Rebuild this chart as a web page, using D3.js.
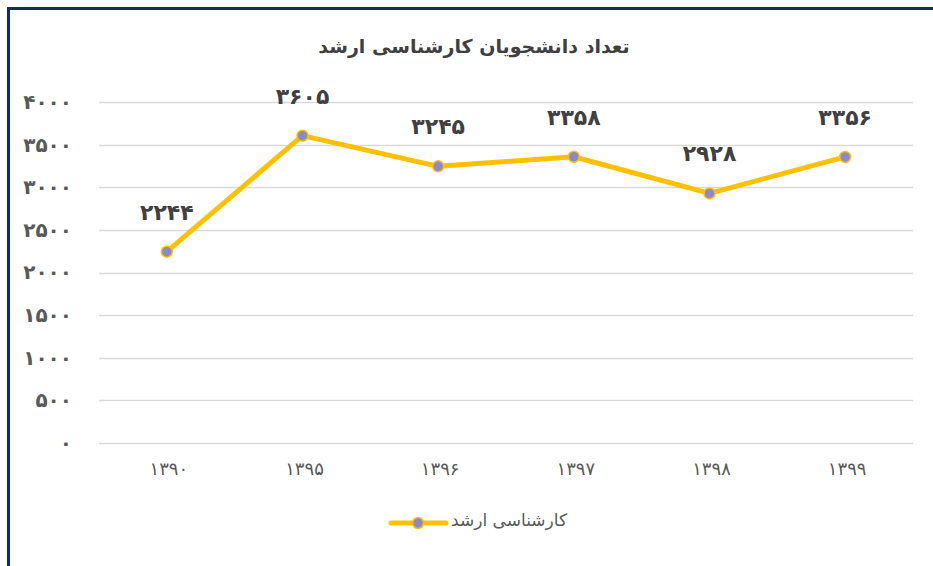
<!DOCTYPE html>
<html>
<head>
<meta charset="utf-8">
<script src="https://cdn.jsdelivr.net/npm/d3@7"></script>
<style>
  body { margin: 0; background: #fff; }
  svg { display: block; }
</style>
</head>
<body>
<svg id="chart" width="933" height="566"></svg>
<script>
// داده‌ها
var years = ['1390', '1395', '1396', '1397', '1398', '1399'];
var counts = [2244, 3605, 3245, 3358, 2928, 3356];
var yTicks = [0, 500, 1000, 1500, 2000, 2500, 3000, 3500, 4000];
var seriesName = 'کارشناسی ارشد';
var chartTitle = 'تعداد دانشجویان کارشناسی ارشد';

// تبدیل ارقام به فارسی
function fa(s) {
    return String(s).replace(/[0-9]/g, function (d) {
        return String.fromCharCode(0x06F0 + (+d));
    });
}

var svg = d3.select('#chart');
var font = '"DejaVu Sans", sans-serif';

// کادر
svg.append('rect')
    .attr('x', 8.5).attr('y', 8.5)
    .attr('width', 1000).attr('height', 1000)
    .attr('fill', 'none')
    .attr('stroke', '#112b63')
    .attr('stroke-width', 3);

var x = d3.scaleBand().domain(years).range([99, 913]);
var y = d3.scaleLinear().domain([0, 4000]).range([443, 102]);

// عنوان
svg.append('text')
    .attr('x', 474).attr('y', 47)
    .attr('text-anchor', 'middle')
    .attr('dominant-baseline', 'middle')
    .attr('font-family', font)
    .attr('font-weight', 'bold')
    .attr('font-size', 19)
    .attr('fill', '#404040')
    .text(chartTitle);

// خطوط شبکه
svg.append('g').selectAll('line')
    .data(yTicks).enter().append('line')
    .attr('x1', 99).attr('x2', 913)
    .attr('y1', function (d) { return Math.round(y(d)) + 0.5; })
    .attr('y2', function (d) { return Math.round(y(d)) + 0.5; })
    .attr('stroke', '#d9d9d9')
    .attr('stroke-width', 1.5);

// محور عمودی
var yAxis = svg.append('g')
    .attr('transform', 'translate(72,0)')
    .call(d3.axisLeft(y).tickValues(yTicks).tickSize(0).tickPadding(0)
        .tickFormat(function (d) { return fa(d); }));
yAxis.select('.domain').remove();
yAxis.selectAll('text')
    .attr('font-family', font)
    .attr('font-weight', 'bold')
    .attr('font-size', 20)
    .attr('fill', '#595959');

// محور افقی
var xAxis = svg.append('g')
    .attr('transform', 'translate(2,462)')
    .call(d3.axisBottom(x).tickSize(0).tickPadding(0)
        .tickFormat(function (d) { return fa(d); }));
xAxis.select('.domain').remove();
xAxis.selectAll('text')
    .attr('font-family', font)
    .attr('font-size', 18)
    .attr('letter-spacing', 4)
    .attr('fill', '#595959');

// خط
var line = d3.line()
    .x(function (d, i) { return x(years[i]) + x.bandwidth() / 2; })
    .y(function (d) { return y(d); });

svg.append('path')
    .datum(counts)
    .attr('d', line)
    .attr('fill', 'none')
    .attr('stroke', '#ffc000')
    .attr('stroke-width', 5)
    .attr('stroke-linejoin', 'round');

svg.append('g').selectAll('circle')
    .data(counts).enter().append('circle')
    .attr('cx', function (d, i) { return x(years[i]) + x.bandwidth() / 2; })
    .attr('cy', function (d) { return y(d); })
    .attr('r', 5.5)
    .attr('fill', '#8d88c6')
    .attr('stroke', '#ffc000')
    .attr('stroke-width', 1.5);

// برچسب مقادیر
svg.append('g').selectAll('text')
    .data(counts).enter().append('text')
    .attr('x', function (d, i) { return x(years[i]) + x.bandwidth() / 2; })
    .attr('y', function (d) { return y(d) - 38; })
    .attr('text-anchor', 'middle')
    .attr('dominant-baseline', 'middle')
    .attr('font-family', font)
    .attr('font-weight', 'bold')
    .attr('font-size', 22)
    .attr('fill', '#404040')
    .text(function (d) { return fa(d); });

// راهنما
var lg = svg.append('g').attr('transform', 'translate(391,523)');
lg.append('line')
    .attr('x1', 0).attr('x2', 55)
    .attr('y1', 0).attr('y2', 0)
    .attr('stroke', '#ffc000')
    .attr('stroke-width', 5)
    .attr('stroke-linecap', 'round');
lg.append('circle')
    .attr('cx', 27).attr('cy', 0).attr('r', 5.5)
    .attr('fill', '#8d88c6')
    .attr('stroke', '#ffc000')
    .attr('stroke-width', 1.5);
lg.append('text')
    .attr('x', 176).attr('y', -2)
    .attr('text-anchor', 'end')
    .attr('dominant-baseline', 'middle')
    .attr('font-family', font)
    .attr('font-size', 17)
    .attr('fill', '#595959')
    .text(seriesName);
</script>
</body>
</html>
